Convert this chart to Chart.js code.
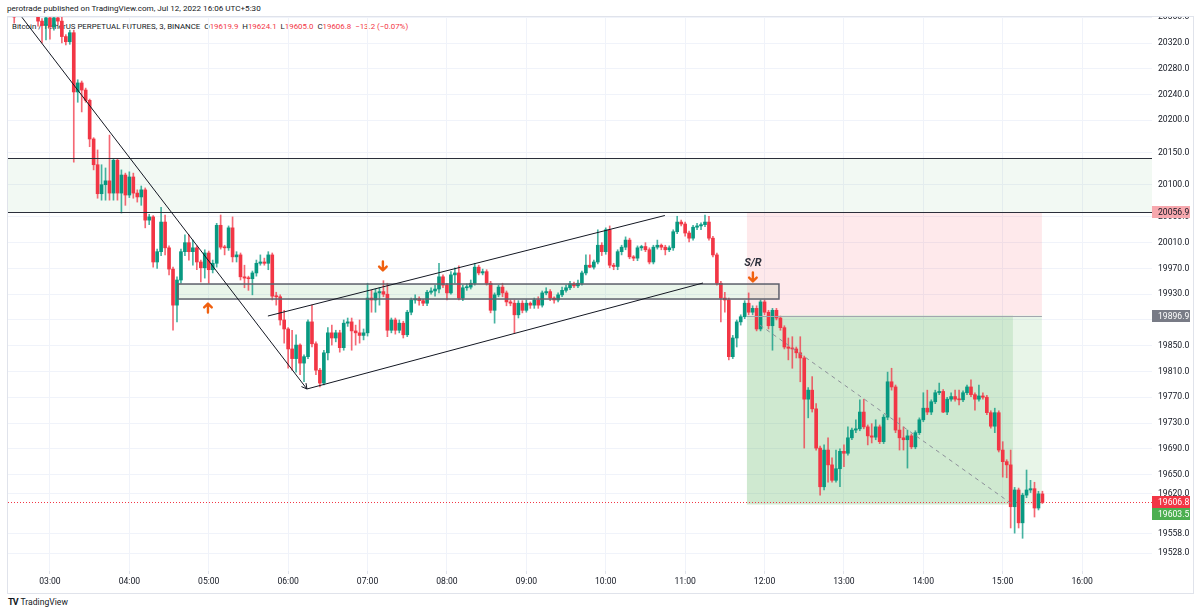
<!DOCTYPE html>
<html>
<head>
<meta charset="utf-8">
<title>BTCUSDT perp 3m</title>
<script src="https://cdn.jsdelivr.net/npm/chart.js@4.4.0/dist/chart.umd.min.js"></script>
<style>
  html, body { margin: 0; padding: 0; background: #fff; }
  #wrap { position: relative; width: 1200px; height: 615px; font-family: Roboto, "Noto Sans", sans-serif; color: #131722; }
  #chart { position: absolute; left: 0; top: 0; z-index: 1; }
  #pub { position: absolute; left: 0; top: 0; width: 1200px; height: 16px; background: #fff; z-index: 2;
         font-size: 8.1px; line-height: 17px; text-indent: 7px; }
  #legend { position: absolute; left: 12px; top: 22px; z-index: 0; font-size: 7.9px; white-space: pre; }
  #legend .v { color: #f23645; }
  #logo { position: absolute; left: 8px; top: 597px; font-size: 8.6px; }
  #logo b { font-size: 9px; letter-spacing: -1px; margin-right: 3px; }
</style>
</head>
<body>
<div id="wrap">
  <div id="pub">perotrade published on TradingView.com, Jul 12, 2022 16:06 UTC+5:30</div>
  <div id="legend">Bitcoin / TetherUS PERPETUAL FUTURES, 3, BINANCE  O<span class="v">19619.9</span>  H<span class="v">19624.1</span>  L<span class="v">19605.0</span>  C<span class="v">19606.8</span>  <span class="v">−13.2 (−0.07%)</span></div>
  <canvas id="chart" width="1200" height="615"></canvas>
  <div id="logo"><b>TV</b>TradingView</div>
</div>
<script>
// 3 minute candles, first one at 02:30
const START = '02:30';
const BAR_MIN = 3;

const open = [
  20370,20365,20364,20375,20380,20376,20370,20365,20354,20347,
  20359,20345,20359,20354,20330,20322,20336,20244,20258,20247,
  20231,20171,20131,20086,20100,20106,20087,20138,20087,20115,
  20084,20112,20087,20081,20092,20045,20050,19980,19996,20042,
  20002,19969,19913,19952,19996,20010,19996,20002,19980,19971,
  19994,19968,19978,20037,20003,20002,20033,19988,19991,19957,
  19955,19954,19963,19978,19980,19978,19991,19927,19926,19890,
  19876,19845,19830,19851,19823,19833,19887,19853,19812,19792,
  19839,19870,19862,19870,19847,19885,19887,19873,19870,19866,
  19870,19924,19921,19932,19934,19930,19874,19890,19874,19885,
  19867,19902,19921,19923,19920,19916,19933,19935,19938,19957,
  19944,19932,19960,19963,19924,19940,19941,19947,19972,19963,
  19965,19947,19905,19929,19941,19932,19918,19916,19898,19916,
  19905,19916,19913,19921,19913,19932,19934,19924,19921,19929,
  19936,19940,19946,19943,19947,19963,19975,19972,19980,20006,
  19996,20030,19975,19973,19996,20003,20014,19988,19986,20002,
  20004,19999,19980,20003,20006,20003,19999,20002,20027,20042,
  20039,20025,20017,20034,20036,20038,20042,20017,19991,19947,
  19924,19921,19833,19862,19887,19895,19916,19902,19908,19876,
  19918,19902,19881,19905,19893,19878,19848,19846,19845,19839,
  19831,19767,19781,19752,19691,19631,19688,19665,19641,19659,
  19686,19683,19707,19719,19721,19747,19724,19710,19708,19724,
  19701,19739,19794,19786,19719,19707,19704,19710,19693,19715,
  19735,19753,19747,19763,19777,19779,19747,19767,19771,19767,
  19766,19777,19786,19774,19767,19772,19770,19746,19725,19746,
  19688,19670,19665,19600,19626,19575,19618,19626,19628,19598,
  19619.9
];
const high = [
  20378,20376,20380,20385,20390,20382,20376,20370,20358,20364,
  20362,20366,20364,20360,20333,20340,20340,20263,20261,20250,
  20233,20173,20154,20131,20126,20177,20140,20141,20123,20118,
  20120,20118,20092,20098,20095,20054,20052,20000,20065,20053,
  20005,19972,19957,20000,20022,20022,20014,20005,19983,19999,
  19997,19983,20040,20053,20006,20036,20050,19996,19994,19975,
  19958,19966,19983,19991,19986,19996,19994,19933,19929,19905,
  19878,19874,19867,19853,19836,19890,19913,19856,19815,19843,
  19878,19882,19874,19874,19890,19893,19893,19882,19890,19876,
  19947,19936,19938,19940,19951,19947,19893,19893,19890,19888,
  19905,19924,19929,19926,19922,19936,19940,19944,19978,19960,
  19947,19965,19971,19974,19944,19946,19952,19978,19975,19969,
  19968,19950,19932,19944,19947,19935,19921,19921,19920,19920,
  19921,19918,19924,19926,19935,19940,19937,19926,19932,19941,
  19944,19950,19949,19952,19966,19991,19991,19983,20030,20010,
  20033,20036,19978,19999,20006,20019,20017,19990,20005,20006,
  20010,20002,20006,20014,20008,20006,20005,20030,20051,20045,
  20042,20028,20037,20040,20041,20053,20051,20020,19994,19950,
  19933,19924,19866,19890,19898,19920,19932,19912,19912,19921,
  19921,19905,19908,19908,19896,19881,19862,19864,19848,19864,
  19834,19785,19802,19760,19694,19696,19707,19676,19688,19690,
  19696,19724,19722,19735,19766,19767,19727,19729,19735,19727,
  19743,19809,19815,19789,19738,19724,19719,19713,19718,19738,
  19777,19781,19766,19781,19792,19782,19770,19777,19781,19781,
  19780,19789,19797,19777,19789,19777,19773,19749,19753,19749,
  19701,19673,19688,19630,19629,19621,19657,19641,19638,19624,
  19624.1
];
const low = [
  20362,20351,20361,20368,20372,20366,20362,20346,20320,20325,
  20326,20340,20348,20320,20317,20318,20135,20228,20213,20228,
  20159,20123,20079,20076,20076,20076,20076,20076,20056,20068,
  20080,20079,20073,20068,20033,20038,19972,19970,19990,19991,
  19960,19874,19887,19947,19990,19983,19975,19968,19949,19955,
  19947,19963,19972,20000,19991,19998,19980,19980,19952,19940,
  19936,19929,19958,19975,19975,19968,19921,19913,19882,19854,
  19815,19812,19809,19805,19794,19830,19848,19805,19786,19789,
  19828,19851,19856,19840,19843,19880,19843,19851,19854,19859,
  19865,19902,19902,19913,19926,19864,19870,19868,19870,19862,
  19864,19898,19916,19913,19912,19912,19930,19927,19932,19940,
  19921,19930,19947,19921,19920,19936,19938,19944,19960,19960,
  19944,19901,19885,19926,19926,19912,19912,19870,19893,19901,
  19902,19908,19908,19908,19910,19929,19920,19916,19918,19926,
  19933,19937,19940,19940,19944,19960,19971,19969,19977,19990,
  19992,19971,19968,19968,19991,19999,19985,19982,19982,19998,
  19996,19977,19977,20000,19999,19991,19996,19998,20024,20036,
  20020,20011,20014,20030,20030,20035,20014,19988,19944,19887,
  19902,19828,19830,19848,19882,19892,19898,19898,19873,19873,
  19898,19876,19843,19890,19874,19845,19828,19815,19831,19794,
  19691,19738,19747,19688,19618,19626,19638,19638,19638,19631,
  19662,19680,19704,19715,19718,19721,19696,19699,19704,19698,
  19698,19735,19781,19715,19688,19688,19660,19690,19690,19712,
  19732,19743,19743,19760,19774,19746,19743,19764,19764,19758,
  19763,19774,19771,19750,19764,19767,19743,19722,19715,19685,
  19646,19645,19567,19559,19567,19551,19614,19622,19584,19595,
  19605.0
];
const close = [
  20365,20364,20375,20380,20376,20370,20365,20354,20347,20359,
  20345,20359,20354,20330,20322,20336,20244,20258,20247,20231,
  20171,20131,20086,20100,20106,20087,20138,20087,20115,20084,
  20112,20087,20081,20092,20045,20050,19980,19996,20042,20002,
  19969,19913,19952,19996,20010,19996,20002,19980,19971,19994,
  19968,19978,20037,20003,20002,20033,19988,19991,19957,19955,
  19954,19963,19978,19980,19978,19991,19927,19926,19890,19876,
  19845,19830,19851,19823,19833,19887,19853,19812,19792,19839,
  19870,19862,19870,19847,19885,19887,19873,19870,19866,19870,
  19924,19921,19932,19934,19930,19874,19890,19874,19885,19867,
  19902,19921,19923,19920,19916,19933,19935,19938,19957,19944,
  19932,19960,19963,19924,19940,19941,19947,19972,19963,19965,
  19947,19905,19929,19941,19932,19918,19916,19898,19916,19905,
  19916,19913,19921,19913,19932,19934,19924,19921,19929,19936,
  19940,19946,19943,19947,19963,19975,19972,19980,20006,19996,
  20030,19975,19973,19996,20003,20014,19988,19986,20002,20004,
  19999,19980,20003,20006,20003,19999,20002,20027,20042,20039,
  20025,20017,20034,20036,20038,20042,20017,19991,19947,19924,
  19921,19833,19862,19887,19895,19916,19902,19908,19876,19918,
  19902,19881,19905,19893,19878,19848,19846,19845,19839,19831,
  19767,19781,19752,19691,19631,19688,19665,19641,19659,19686,
  19683,19707,19719,19721,19747,19724,19710,19708,19724,19701,
  19739,19794,19786,19719,19707,19704,19710,19693,19715,19735,
  19753,19747,19763,19777,19779,19747,19767,19771,19767,19766,
  19777,19786,19774,19767,19772,19770,19746,19725,19746,19688,
  19670,19665,19600,19626,19575,19618,19626,19628,19598,19620,
  19606.8
];

const timeTicks = ['03:00','04:00','05:00','06:00','07:00','08:00','09:00',
                   '10:00','11:00','12:00','13:00','14:00','15:00','16:00'];
const priceTicks = [20360,20320,20280,20240,20200,20150,20100,20050,20010,19970,19930,
                    19890,19850,19810,19770,19730,19690,19650,19620,19558,19528];
const timeRange = ['02:28.3', '16:52.8'];
const priceRange = [19500.2, 20360.4];

// drawings on the chart (time, price)
const bandZone = [20141.5, 20056.9];
const boxTimes = ['04:36.7', '12:10.9'];
const boxPrices = [19945.8, 19922.5];
const posTimes = ['11:46.7', '15:07.7', '15:29.6'];      // start, target hit, end
const posPrices = [20056.9, 19896.9, 19603.5];           // stop, entry, target
const trendLines = [
  ['02:38.8', 20360.0, '06:14.2', 19782.8, true],
  ['05:44.7', 19896.1, '10:44.7', 20052.2, false],
  ['06:14.2', 19782.8, '11:13.5', 19947.4, false]
];
const dashedLine = ['11:56.5', 19882.1, '15:07.0', 19604.2];
const marks = [['04:59.4', 19908.5, 'up'], ['07:11.6', 19973.8, 'down'], ['11:51.2', 19956.7, 'down']];
const srLabel = ['11:51.2', 19978.0, 'S/R'];
const lastPrice = 19606.8;
const badges = [
  [20056.9, '#f7a8ae', '#131722'],
  [19896.9, '#787b86', '#ffffff'],
  [19606.8, '#f23645', '#ffffff'],
  [19603.5, '#4caf50', '#ffffff']
];

const tMin = s => { const [h, m] = s.split(':').map(Number); return h * 60 + m; };
const t0 = tMin(START);
const candleTimes = open.map((_, i) => t0 + BAR_MIN * i);
const UP = '#089981', DOWN = '#f23645';
const isUp = close.map((c, i) => c >= open[i]);

const FONT = { family: 'Roboto, "Noto Sans", sans-serif', size: 8.6 };

function orangeArrow(ctx, x, y, dir) {
  ctx.save();
  ctx.translate(x, y);
  if (dir === 'down') ctx.scale(1, -1);
  ctx.strokeStyle = '#f0600f';
  ctx.lineWidth = 2.4;
  ctx.lineCap = 'round';
  ctx.lineJoin = 'round';
  ctx.beginPath();
  ctx.moveTo(0, 4.5); ctx.lineTo(0, -4);
  ctx.moveTo(-3.8, -0.6); ctx.lineTo(0, -4.4); ctx.lineTo(3.8, -0.6);
  ctx.stroke();
  ctx.restore();
}

const drawings = {
  id: 'drawings',
  beforeDatasetsDraw(chart) {
    const { ctx, chartArea: a, scales: { x, y } } = chart;
    ctx.save();
    ctx.beginPath(); ctx.rect(a.left, a.top, a.width, a.height); ctx.clip();

    // wide zone
    const bt = y.getPixelForValue(bandZone[0]), bb = y.getPixelForValue(bandZone[1]);
    ctx.fillStyle = 'rgba(76,175,80,0.07)';
    ctx.fillRect(a.left, bt, a.width, bb - bt);

    // small zone
    const bx1 = x.getPixelForValue(tMin(boxTimes[0])), bx2 = x.getPixelForValue(tMin(boxTimes[1]));
    const by1 = y.getPixelForValue(boxPrices[0]), by2 = y.getPixelForValue(boxPrices[1]);
    ctx.fillStyle = 'rgba(76,175,80,0.12)';
    ctx.fillRect(bx1, by1, bx2 - bx1, by2 - by1);

    // short position
    const px0 = x.getPixelForValue(tMin(posTimes[0]));
    const px1 = x.getPixelForValue(tMin(posTimes[1]));
    const px2 = x.getPixelForValue(tMin(posTimes[2]));
    const ps = y.getPixelForValue(posPrices[0]), pe = y.getPixelForValue(posPrices[1]), pt = y.getPixelForValue(posPrices[2]);
    ctx.fillStyle = 'rgba(242,54,69,0.11)';
    ctx.fillRect(px0, ps, px2 - px0, pe - ps);
    ctx.fillStyle = 'rgba(76,175,80,0.27)';
    ctx.fillRect(px0, pe, px1 - px0, pt - pe);
    ctx.fillStyle = 'rgba(76,175,80,0.13)';
    ctx.fillRect(px1, pe, px2 - px1, pt - pe);

    // last price line
    const ly = Math.round(y.getPixelForValue(lastPrice)) + 0.5;
    ctx.strokeStyle = '#f23645';
    ctx.lineWidth = 1;
    ctx.setLineDash([1, 2]);
    ctx.beginPath(); ctx.moveTo(a.left, ly); ctx.lineTo(a.right, ly); ctx.stroke();
    ctx.restore();
  },
  afterDatasetsDraw(chart) {
    const { ctx, chartArea: a, scales: { x, y } } = chart;
    ctx.save();
    ctx.beginPath(); ctx.rect(a.left, a.top, a.width, a.height); ctx.clip();

    // zone borders
    ctx.strokeStyle = '#2a2e39';
    ctx.lineWidth = 1;
    for (const p of bandZone) {
      const yy = Math.round(y.getPixelForValue(p)) + 0.5;
      ctx.beginPath(); ctx.moveTo(a.left, yy); ctx.lineTo(a.right, yy); ctx.stroke();
    }
    const bx1 = x.getPixelForValue(tMin(boxTimes[0])), bx2 = x.getPixelForValue(tMin(boxTimes[1]));
    const by1 = y.getPixelForValue(boxPrices[0]), by2 = y.getPixelForValue(boxPrices[1]);
    ctx.strokeStyle = '#5d606b';
    ctx.lineWidth = 1.5;
    ctx.strokeRect(bx1, by1, bx2 - bx1, by2 - by1);

    // entry line of the position
    const px0 = x.getPixelForValue(tMin(posTimes[0])), px2 = x.getPixelForValue(tMin(posTimes[2]));
    const pe = Math.round(y.getPixelForValue(posPrices[1])) + 0.5;
    ctx.strokeStyle = '#a3a6af';
    ctx.lineWidth = 1;
    ctx.beginPath(); ctx.moveTo(px0, pe); ctx.lineTo(px2, pe); ctx.stroke();

    // trend lines
    ctx.strokeStyle = '#131722';
    ctx.lineWidth = 1;
    for (const [ta, pa, tb, pb, arrow] of trendLines) {
      const x1 = x.getPixelForValue(tMin(ta)), y1 = y.getPixelForValue(pa);
      const x2 = x.getPixelForValue(tMin(tb)), y2 = y.getPixelForValue(pb);
      ctx.beginPath(); ctx.moveTo(x1, y1); ctx.lineTo(x2, y2); ctx.stroke();
      if (arrow) {
        const ang = Math.atan2(y2 - y1, x2 - x1);
        ctx.beginPath();
        ctx.moveTo(x2 - 6 * Math.cos(ang - 0.5), y2 - 6 * Math.sin(ang - 0.5));
        ctx.lineTo(x2, y2);
        ctx.lineTo(x2 - 6 * Math.cos(ang + 0.5), y2 - 6 * Math.sin(ang + 0.5));
        ctx.stroke();
      }
    }

    // projected path
    ctx.strokeStyle = '#8c8f99';
    ctx.setLineDash([4, 4]);
    ctx.beginPath();
    ctx.moveTo(x.getPixelForValue(tMin(dashedLine[0])), y.getPixelForValue(dashedLine[1]));
    ctx.lineTo(x.getPixelForValue(tMin(dashedLine[2])), y.getPixelForValue(dashedLine[3]));
    ctx.stroke();
    ctx.setLineDash([]);

    for (const [t, p, dir] of marks) {
      orangeArrow(ctx, x.getPixelForValue(tMin(t)), y.getPixelForValue(p), dir);
    }
    ctx.fillStyle = '#2a2e39';
    ctx.font = 'italic bold 11px Roboto, sans-serif';
    ctx.textAlign = 'center';
    ctx.textBaseline = 'middle';
    ctx.fillText(srLabel[2], x.getPixelForValue(tMin(srLabel[0])), y.getPixelForValue(srLabel[1]));
    ctx.restore();
  },
  afterDraw(chart) {
    const { ctx, chartArea: a, scales: { y } } = chart;
    ctx.save();
    // pane frame
    ctx.strokeStyle = '#e0e3eb';
    ctx.lineWidth = 1;
    ctx.strokeRect(7.5, 16.5, 1186, 577);
    // price badges on the axis
    ctx.font = '8.6px Roboto, sans-serif';
    ctx.textBaseline = 'middle';
    ctx.textAlign = 'left';
    let prev = -100;
    for (const [v, bg, fg] of badges) {
      let cy = y.getPixelForValue(v);
      if (cy - prev < 12) cy = prev + 12;
      prev = cy;
      ctx.fillStyle = bg;
      ctx.fillRect(a.right, Math.round(cy - 6), 38, 12);
      ctx.fillStyle = fg;
      ctx.fillText(v.toFixed(1), a.right + 6, Math.round(cy) + 0.5);
    }
    ctx.restore();
  }
};

new Chart(document.getElementById('chart'), {
  type: 'bar',
  data: {
    datasets: [
      {
        label: 'body',
        data: candleTimes.map((t, i) => ({ x: t, y: [open[i], close[i]] })),
        backgroundColor: isUp.map(u => u ? UP : DOWN),
        barThickness: 3,
        minBarLength: 1,
        grouped: false,
        borderWidth: 0
      },
      {
        label: 'wick',
        data: candleTimes.map((t, i) => ({ x: t, y: [low[i], high[i]] })),
        backgroundColor: isUp.map(u => u ? 'rgba(8,153,129,0.75)' : 'rgba(242,54,69,0.75)'),
        barThickness: 1,
        grouped: false,
        borderWidth: 0
      }
    ]
  },
  options: {
    responsive: false,
    animation: false,
    devicePixelRatio: 1,
    layout: { padding: { left: 8, top: 17, right: 7, bottom: 22 } },
    plugins: { legend: { display: false }, tooltip: { enabled: false } },
    scales: {
      x: {
        type: 'linear',
        offset: false,
        min: tMin(timeRange[0]),
        max: tMin(timeRange[1]),
        border: { display: false },
        grid: { color: '#f0f3fa', tickLength: 3, tickColor: '#e0e3eb', offset: false },
        afterBuildTicks: s => { s.ticks = timeTicks.map(v => ({ value: tMin(v) })); },
        afterFit: s => { s.height = 22; },
        ticks: { autoSkip: false, maxRotation: 0, padding: 3, color: '#131722', font: FONT,
                 callback: (v, i) => timeTicks[i] }
      },
      y: {
        type: 'linear',
        position: 'right',
        min: priceRange[0],
        max: priceRange[1],
        border: { display: false },
        grid: { color: '#f0f3fa', drawTicks: false },
        afterBuildTicks: s => { s.ticks = priceTicks.map(v => ({ value: v })); },
        afterFit: s => { s.width = 41; },
        ticks: { autoSkip: false, padding: 6, color: '#131722', font: FONT,
                 callback: v => v.toFixed(1) }
      }
    }
  },
  plugins: [drawings]
});
</script>
</body>
</html>
